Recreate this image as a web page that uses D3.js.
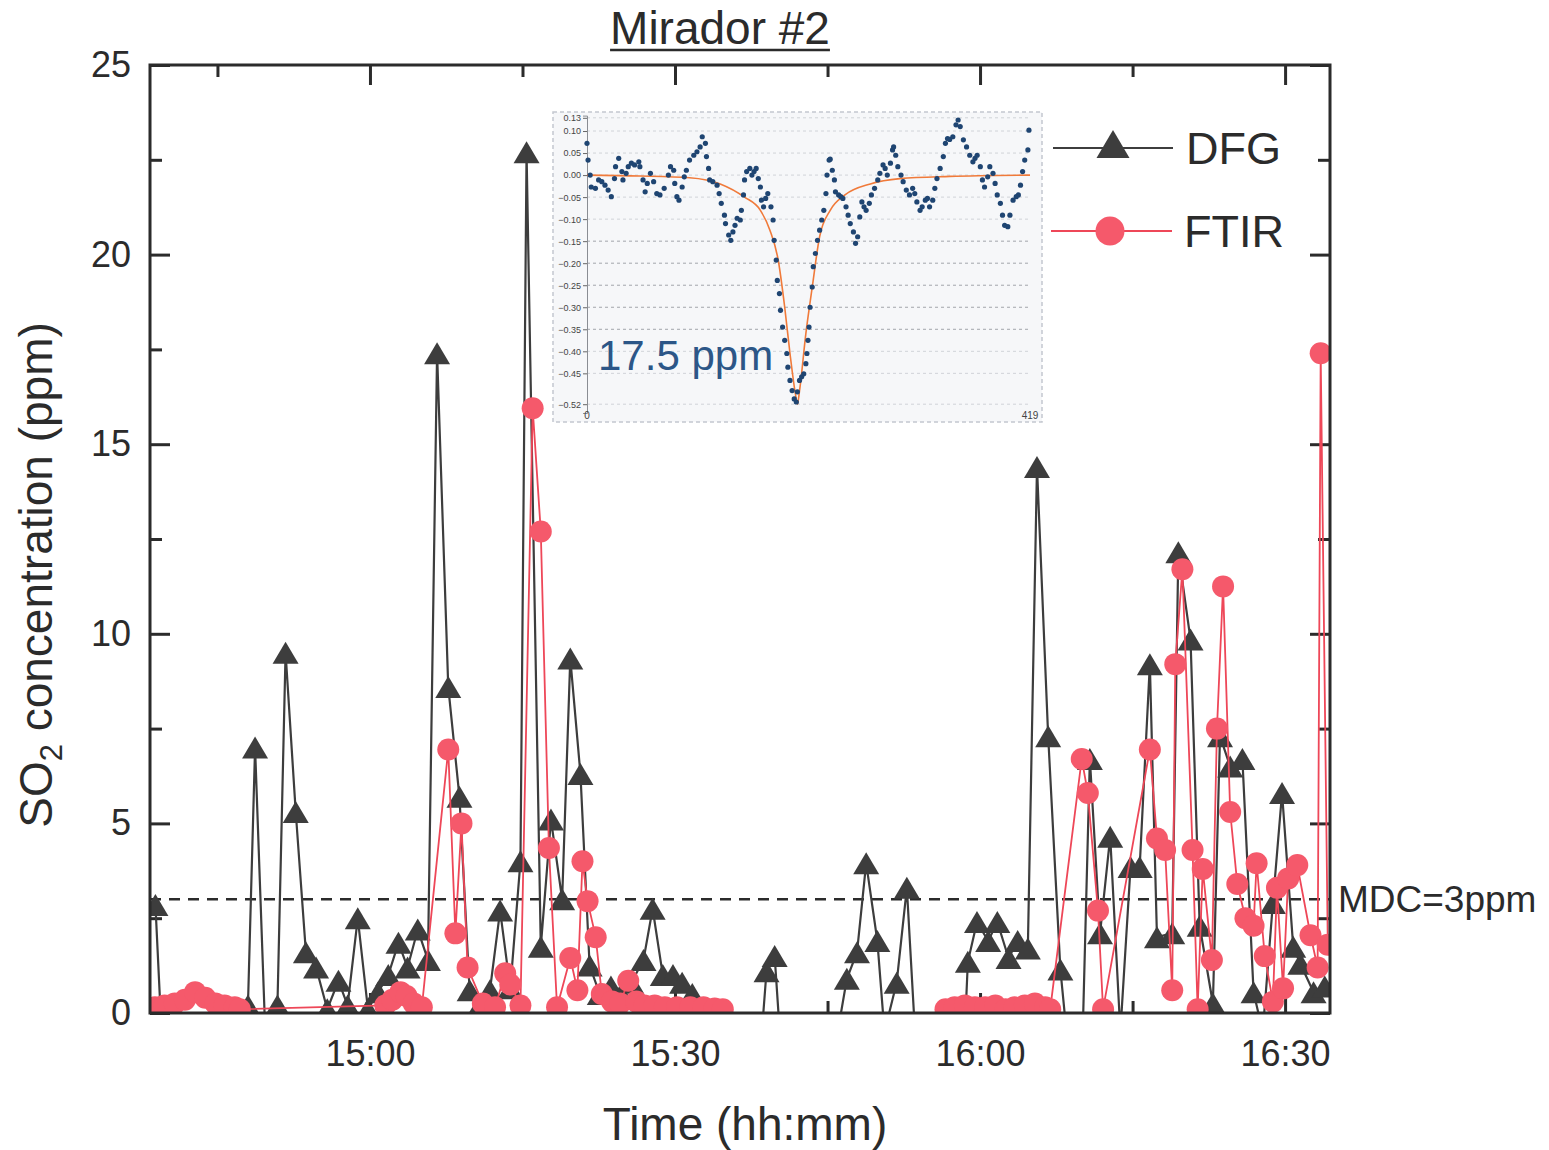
<!DOCTYPE html>
<html><head><meta charset="utf-8">
<script src="https://cdn.jsdelivr.net/npm/d3@7"></script>
<style>body{margin:0;background:#fff}svg{display:block;font-family:"Liberation Sans",Arial,sans-serif}</style>
</head><body><svg id="c" width="1549" height="1150"></svg>
<script>
// ---- data (time = minutes after 14:00) ----
const dfgMinutes = [38.9,39.5,47.7,48.0,48.7,49.7,50.9,51.7,52.7,53.7,54.7,55.8,56.9,57.8,58.8,59.8,60.8,61.8,62.8,63.7,64.7,65.7,66.6,67.7,68.8,69.8,70.8,71.8,72.8,73.8,74.8,75.4,76.8,77.8,78.9,79.7,80.7,81.6,82.6,83.7,84.7,85.7,86.9,87.8,88.8,89.8,90.7,91.7,92.8,98.4,99.0,99.8,100.3,106.0,106.9,107.9,108.8,109.9,110.6,111.8,112.8,113.6,118.5,118.8,119.7,120.8,121.7,122.8,123.7,124.7,125.6,126.7,127.9,128.5,130.1,130.8,131.8,132.8,133.8,134.8,135.7,136.7,137.4,138.9,139.5,140.7,141.6,142.9,143.6,144.6,145.8,146.9,147.8,148.8,149.7,150.8,151.5,152.8,153.9];
const dfgValues = [2.85,-0.5,-0.5,0.2,7.0,-0.5,0.2,9.5,5.3,1.6,1.2,0.1,0.85,0.2,2.5,0.1,0.55,1.0,1.85,1.2,2.2,1.4,17.4,8.6,5.7,0.6,0.2,0.6,2.7,0.65,4.0,22.7,1.75,5.1,3.0,9.35,6.3,1.25,0.5,0.7,0.5,0.8,1.4,2.75,1.0,1.0,0.8,0.5,0.05,-1.0,1.1,1.5,-0.5,-0.5,0.9,1.6,3.95,1.9,-0.5,0.8,3.3,-0.5,-0.5,1.35,2.4,1.9,2.4,1.45,1.9,1.7,14.4,7.3,1.15,-0.5,-0.5,6.7,2.1,4.65,-0.5,3.85,3.85,9.2,2.0,2.1,12.15,9.85,2.3,0.25,7.3,6.5,6.7,0.55,-0.5,2.9,5.8,1.75,1.3,0.55,0.7];
const ftirMinutes = [38.85,39.8,40.8,41.8,42.8,43.8,44.8,45.7,46.7,47.2,61.5,62.2,63.0,63.6,64.3,65.1,67.7,68.4,69.0,69.6,71.1,72.3,73.3,73.8,74.8,76.0,76.8,77.6,78.4,79.7,80.4,80.9,81.4,82.2,82.8,83.8,84.6,85.4,86.2,87.0,88.0,89.0,90.2,91.5,92.8,93.9,94.7,105.0,116.6,117.5,118.5,119.5,120.5,121.5,122.5,123.4,124.4,125.4,126.4,126.9,130.0,130.6,131.6,132.1,136.7,137.4,138.2,138.9,139.2,139.9,140.9,141.4,141.9,142.8,143.3,143.9,144.6,145.3,146.1,146.9,147.2,148.0,148.8,149.2,149.8,150.3,151.2,152.5,153.2,153.5,154.2];
const ftirValues = [0.15,0.2,0.25,0.35,0.55,0.4,0.25,0.2,0.15,0.1,0.2,0.35,0.55,0.45,0.25,0.15,6.95,2.1,5.0,1.2,0.25,0.15,1.05,0.75,0.2,15.95,12.7,4.35,0.15,1.45,0.6,4.0,2.95,2.0,0.5,0.3,0.25,0.85,0.3,0.2,0.2,0.15,0.15,0.15,0.15,0.12,0.1,null,0.1,0.15,0.2,0.15,0.15,0.2,0.1,0.15,0.2,0.25,0.15,0.1,6.7,5.8,2.7,0.1,6.95,4.6,4.3,0.6,9.2,11.7,4.3,0.1,3.8,1.4,7.5,11.25,5.3,3.4,2.5,2.3,3.95,1.5,0.3,3.3,0.65,3.55,3.9,2.05,1.2,17.4,1.8];
const seriesNames = ["DFG","FTIR"];
const xTickLabels = ["15:00","15:30","16:00","16:30"];
const xMinorLabels = ["14:45","15:15","15:45","16:15"];
const xDomainLabels = ["14:38:22","16:34:25"];
const yTicks = [0,5,10,15,20,25];
const yMinorTicks = [2.5,7.5,12.5,17.5,22.5];
const mdcValue = 3;
const mdcLabel = "MDC=3ppm";
// inset (spectral residual)
const insetIndex = [0,1,3,4,8,11,14,17,20,23,26,27,30,33,34,37,39,42,45,49,50,53,55,57,60,63,66,69,73,77,79,82,83,85,87,90,92,94,97,101,104,107,109,112,113,115,116,119,123,125,127,130,131,134,136,138,140,142,145,146,148,149,151,154,156,158,160,162,164,165,167,169,171,174,176,177,179,180,182,183,185,187,189,190,192,194,196,198,199,201,203,205,207,208,209,210,211,213,214,216,218,220,222,224,226,227,229,230,232,234,235,238,240,242,245,247,249,252,254,256,258,260,262,264,267,269,272,275,277,280,282,284,287,289,290,292,294,297,299,302,305,308,310,312,315,317,320,322,324,327,329,331,334,337,339,341,343,346,349,351,353,356,359,362,365,367,369,372,374,376,379,381,384,386,388,391,393,395,398,400,403,406,408,410,412,414,417,418];
const insetValues = [0.072,0.034,0.0,-0.027,-0.03,-0.011,-0.015,-0.023,-0.034,-0.049,-0.008,0.019,0.038,0.008,-0.011,0.004,0.019,0.027,0.023,0.03,0.019,-0.011,-0.038,-0.019,0.004,-0.015,-0.042,-0.045,-0.03,0.0,0.019,0.011,-0.019,-0.049,-0.057,-0.027,-0.004,0.011,0.034,0.045,0.053,0.064,0.087,0.072,0.042,0.015,-0.011,-0.015,-0.023,-0.042,-0.064,-0.091,-0.11,-0.136,-0.148,-0.129,-0.114,-0.098,-0.102,-0.08,-0.045,-0.011,0.008,0.015,0.0,0.008,0.015,-0.008,-0.027,-0.057,-0.072,-0.053,-0.042,-0.072,-0.102,-0.148,-0.193,-0.239,-0.269,-0.307,-0.345,-0.375,-0.405,-0.436,-0.466,-0.489,-0.508,-0.515,-0.492,-0.466,-0.458,-0.451,-0.428,-0.405,-0.375,-0.345,-0.3,-0.254,-0.208,-0.178,-0.148,-0.125,-0.102,-0.08,-0.042,0.0,0.034,0.036,0.011,-0.011,-0.038,-0.045,-0.049,-0.053,-0.072,-0.091,-0.11,-0.129,-0.155,-0.14,-0.095,-0.061,-0.072,-0.08,-0.064,-0.045,-0.03,-0.011,0.004,0.023,0.015,0.0,0.027,0.057,0.064,0.045,0.019,0.0,-0.015,-0.034,-0.045,-0.03,-0.042,-0.061,-0.08,-0.072,-0.057,-0.053,-0.072,-0.057,-0.03,-0.008,0.015,0.042,0.072,0.083,0.081,0.087,0.114,0.125,0.11,0.08,0.064,0.045,0.03,0.038,0.045,0.019,-0.011,-0.027,-0.004,0.019,0.004,-0.019,-0.045,-0.064,-0.091,-0.114,-0.117,-0.091,-0.057,-0.049,-0.045,-0.023,0.008,0.034,0.057,0.102];
const insetFitIndex = [0,50,97,126,149,164,173,181,187,192,197,199,201,207,213,220,230,244,268,296,343,419];
const insetFitValues = [0.0,-0.002,-0.006,-0.02,-0.05,-0.08,-0.125,-0.195,-0.3,-0.405,-0.495,-0.52,-0.49,-0.36,-0.255,-0.14,-0.08,-0.045,-0.02,-0.008,-0.003,0.0];
const insetYTicks = [0.13,0.10,0.05,0.00,-0.05,-0.10,-0.15,-0.20,-0.25,-0.30,-0.35,-0.40,-0.45,-0.52];
const insetXTicks = [0,419];
const insetLabel = "17.5 ppm";

// ---- layout ----
const L=150,R=1330,T=65,B=1013;
const svg=d3.select("#c");
const pt=d3.timeParse("%H:%M"), pts=d3.timeParse("%H:%M:%S");
const base=pt("14:00");
const toDate=m=>new Date(base.getTime()+m*60000);
const x=d3.scaleTime().domain(xDomainLabels.map(pts)).range([L,R]);
const y=d3.scaleLinear().domain([0,25]).range([B,T]);
const ink="#2b2b2b", dfgCol="#3d3d3d", ftirLine="#ee4758", ftirFill="#f5596b";

svg.append("defs").append("clipPath").attr("id","clip").append("rect").attr("x",L).attr("y",T).attr("width",R-L).attr("height",B-T);

// axes
function styleAxis(g,fs){g.select(".domain").remove();g.selectAll(".tick line").attr("stroke",ink).attr("stroke-width",3);g.selectAll(".tick text").attr("fill",ink).attr("font-size",fs).attr("font-family","Liberation Sans, Arial, sans-serif");}
svg.append("g").attr("transform",`translate(0,${B})`).call(d3.axisBottom(x).tickValues(xTickLabels.map(pt)).tickFormat(d3.timeFormat("%H:%M")).tickSizeInner(-20).tickSizeOuter(0).tickPadding(27)).call(g=>styleAxis(g,36));
svg.append("g").attr("transform",`translate(0,${B})`).call(d3.axisBottom(x).tickValues(xMinorLabels.map(pt)).tickFormat("").tickSizeInner(-12).tickSizeOuter(0)).call(g=>styleAxis(g,36));
svg.append("g").attr("transform",`translate(0,${T})`).call(d3.axisTop(x).tickValues(xTickLabels.map(pt)).tickFormat("").tickSizeInner(-20).tickSizeOuter(0)).call(g=>styleAxis(g,36));
svg.append("g").attr("transform",`translate(0,${T})`).call(d3.axisTop(x).tickValues(xMinorLabels.map(pt)).tickFormat("").tickSizeInner(-12).tickSizeOuter(0)).call(g=>styleAxis(g,36));
svg.append("g").attr("transform",`translate(${L},0)`).call(d3.axisLeft(y).tickValues(yTicks).tickFormat(d3.format("d")).tickSizeInner(-20).tickSizeOuter(0).tickPadding(19)).call(g=>styleAxis(g,36));
svg.append("g").attr("transform",`translate(${L},0)`).call(d3.axisLeft(y).tickValues(yMinorTicks).tickFormat("").tickSizeInner(-12).tickSizeOuter(0)).call(g=>styleAxis(g,36));
svg.append("g").attr("transform",`translate(${R},0)`).call(d3.axisRight(y).tickValues(yTicks).tickFormat("").tickSizeInner(-20).tickSizeOuter(0)).call(g=>styleAxis(g,36));
svg.append("g").attr("transform",`translate(${R},0)`).call(d3.axisRight(y).tickValues(yMinorTicks).tickFormat("").tickSizeInner(-12).tickSizeOuter(0)).call(g=>styleAxis(g,36));

// MDC line
svg.append("line").attr("x1",L).attr("x2",R).attr("y1",y(mdcValue)).attr("y2",y(mdcValue)).attr("stroke",ink).attr("stroke-width",2.5).attr("stroke-dasharray","11,8");
svg.append("text").attr("x",R+8).attr("y",y(mdcValue)+13).attr("font-size",37).attr("fill",ink).text(mdcLabel);

// data
const dfg=dfgMinutes.map((m,i)=>({t:toDate(m),v:dfgValues[i]}));
const ftir=ftirMinutes.map((m,i)=>({t:toDate(m),v:ftirValues[i]}));
const plot=svg.append("g").attr("clip-path","url(#clip)");
const line=d3.line().defined(d=>d.v!==null).x(d=>x(d.t)).y(d=>y(d.v));
const triW=26,triH=22;
const tri=`M0,${-triH/2}L${triW/2},${triH/2}L${-triW/2},${triH/2}Z`;
plot.append("path").datum(dfg).attr("d",line).attr("fill","none").attr("stroke",dfgCol).attr("stroke-width",2.2).attr("stroke-linejoin","miter");
plot.selectAll(".tri").data(dfg).join("path").attr("d",tri).attr("transform",d=>`translate(${x(d.t)},${y(d.v)})`).attr("fill",dfgCol);
plot.append("path").datum(ftir).attr("d",line).attr("fill","none").attr("stroke",ftirLine).attr("stroke-width",1.8);
plot.selectAll(".cir").data(ftir.filter(d=>d.v!==null)).join("circle").attr("cx",d=>x(d.t)).attr("cy",d=>y(d.v)).attr("r",11).attr("fill",ftirFill);

// frame
svg.append("rect").attr("x",L).attr("y",T).attr("width",R-L).attr("height",B-T).attr("fill","none").attr("stroke",ink).attr("stroke-width",3);

// inset
const ix=d3.scaleLinear().domain([0,419]).range([587,1030]);
const iy=d3.scaleLinear().domain([-0.54,0.135]).range([413,115.6]);
const ins=svg.append("g");
ins.append("rect").attr("x",553).attr("y",112).attr("width",489).attr("height",310).attr("fill","#f6f7f9").attr("stroke","#c4c8d0").attr("stroke-width",1.5).attr("stroke-dasharray","4,3");
ins.selectAll(".grid").data(insetYTicks).join("line").attr("x1",587).attr("x2",1030).attr("y1",d=>iy(d)).attr("y2",d=>iy(d))
  .attr("stroke",d=>(d<=-0.145&&d>=-0.355)?"#a2a5ab":"#d0d3d8").attr("stroke-width",1).attr("stroke-dasharray","3,3");
ins.append("g").attr("transform","translate(587,0)").call(d3.axisLeft(iy).tickValues(insetYTicks).tickFormat(d3.format(".2f")).tickSize(4).tickPadding(2))
  .call(g=>{g.select(".domain").attr("stroke","#8a8d93");g.selectAll(".tick line").attr("stroke","#666");g.selectAll(".tick text").attr("font-size",9).attr("fill","#444").attr("font-family","Liberation Sans, Arial, sans-serif");});
ins.selectAll(".ixt").data(insetXTicks).join("text").attr("x",d=>ix(d)).attr("y",419).attr("text-anchor","middle").attr("font-size",10).attr("fill","#444").text(d=>d);
const fit=insetFitIndex.map((k,i)=>({k,v:insetFitValues[i]}));
ins.append("path").datum(fit).attr("d",d3.line().x(d=>ix(d.k)).y(d=>iy(d.v)).curve(d3.curveMonotoneX)).attr("fill","none").attr("stroke","#f07a3a").attr("stroke-width",1.6);
ins.selectAll(".dot").data(insetIndex.map((k,i)=>({k,v:insetValues[i]}))).join("circle").attr("cx",d=>ix(d.k)).attr("cy",d=>iy(d.v)).attr("r",2.6).attr("fill","#1f4572");
ins.append("text").attr("x",598).attr("y",370).attr("font-size",42).attr("fill","#2c5687").text(insetLabel);

// legend
const lg=svg.append("g");
lg.append("line").attr("x1",1053).attr("x2",1173).attr("y1",148).attr("y2",148).attr("stroke",dfgCol).attr("stroke-width",2.2);
lg.append("path").attr("d","M0,-14L16.5,14L-16.5,14Z").attr("transform","translate(1113,144)").attr("fill",dfgCol);
lg.append("text").attr("x",1186).attr("y",164).attr("font-size",45).attr("fill",ink).text(seriesNames[0]);
lg.append("line").attr("x1",1051).attr("x2",1172).attr("y1",231).attr("y2",231).attr("stroke",ftirLine).attr("stroke-width",1.8);
lg.append("circle").attr("cx",1110).attr("cy",231).attr("r",14.5).attr("fill",ftirFill);
lg.append("text").attr("x",1184).attr("y",247).attr("font-size",45).attr("fill",ink).text(seriesNames[1]);

// titles
const title=svg.append("text").attr("x",720).attr("y",44).attr("text-anchor","middle").attr("font-size",46).attr("fill",ink).text("Mirador #2");
const bb=title.node().getBBox();
svg.append("line").attr("x1",bb.x).attr("x2",bb.x+bb.width).attr("y1",50).attr("y2",50).attr("stroke",ink).attr("stroke-width",2.5);
svg.append("text").attr("x",745).attr("y",1140).attr("text-anchor","middle").attr("font-size",46).attr("fill",ink).text("Time (hh:mm)");
const yl=svg.append("text").attr("transform","translate(52,575) rotate(-90)").attr("text-anchor","middle").attr("font-size",46).attr("fill",ink);
yl.append("tspan").text("SO");
yl.append("tspan").attr("font-size",31).attr("dy",10).text("2");
yl.append("tspan").attr("dy",-10).text(" concentration (ppm)");
</script></body></html>
